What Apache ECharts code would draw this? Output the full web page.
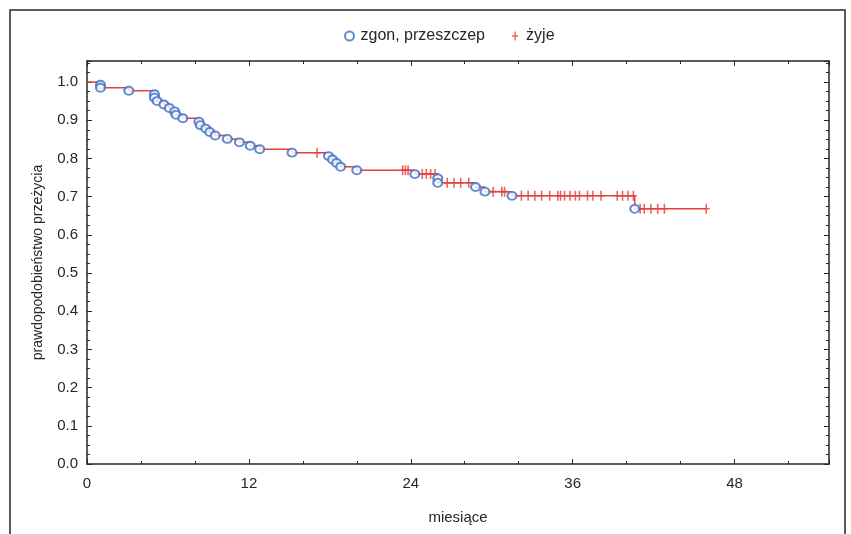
<!DOCTYPE html>
<html>
<head>
<meta charset="utf-8">
<script src="https://cdn.jsdelivr.net/npm/echarts@6/dist/echarts.min.js"></script>
<style>
  html, body { margin: 0; padding: 0; background: #fff; }
  #chart { width: 851px; height: 534px; }
</style>
</head>
<body>
<div id="chart"></div>
<script>
// czasy zgonów / przeszczepów (miesiące) i wartość krzywej po zdarzeniu
const deathT = [1.0, 1.0, 3.1, 5.0, 5.0, 5.2, 5.7, 6.1, 6.5, 6.6, 7.1, 8.3, 8.4, 8.8, 9.1, 9.5, 10.4, 11.3, 12.1, 12.8,
  15.2, 17.9, 18.2, 18.5, 18.8, 20.0, 24.3, 26.0, 26.0, 28.8, 29.5, 31.5, 40.6]
const deathS = [0.993, 0.985, 0.977, 0.968, 0.959, 0.950, 0.941, 0.932, 0.923, 0.914, 0.905, 0.896, 0.887, 0.878, 0.869,
  0.860, 0.851, 0.842, 0.833, 0.824, 0.815, 0.806, 0.797, 0.788, 0.778, 0.769, 0.759, 0.748, 0.736, 0.725, 0.713, 0.702, 0.668]
// obserwacje ucięte (żyje)
const censT = [17.05, 23.4, 23.6, 23.8, 24.85, 25.15, 25.47, 25.8, 26.7, 27.2, 27.7, 28.3, 30.1, 30.75, 30.95,
  32.2, 32.7, 33.2, 33.7, 34.3, 34.9, 35.1, 35.4, 35.8, 36.2, 36.5, 37.1, 37.5, 38.1, 39.3, 39.7, 40.1, 40.5,
  41.0, 41.3, 41.8, 42.3, 42.8, 45.9]
const xTicks = [0, 12, 24, 36, 48]
const yTicks = [0, 0.1, 0.2, 0.3, 0.4, 0.5, 0.6, 0.7, 0.8, 0.9, 1.0]

const survAt = (t) => {
  let s = 1
  deathT.forEach((d, i) => { if (d <= t) s = deathS[i] })
  return s
}

const curve = [[0, 1]]
deathT.forEach((t, i) => curve.push([t, deathS[i]]))
curve.push([censT[censT.length - 1], survAt(censT[censT.length - 1])])

const deaths = deathT.map((t, i) => [t, deathS[i]])
const censored = censT.map(t => [t, survAt(t)])

const RED = '#e5403a'
const BLUE = '#3b6fc6'
const INK = '#262626'
const FONT = '"Liberation Sans", Arial, sans-serif'
const plus = 'path://M2.4,0h1.4v3.8h2.4v1.4h-2.4v3.8h-1.4v-3.8h-2.4v-1.4h2.4z'
const XMAX = 55
const YMAX = 1.055

const axisLine = { show: true, onZero: false, lineStyle: { color: INK, width: 1.5 } }
const tick = { show: true, inside: true, length: 5, lineStyle: { color: INK } }
const smallTick = { show: true, inside: true, length: 3, lineStyle: { color: INK } }
const noLabel = { show: false }
const noSplit = { show: false }

// osie pomocnicze: same krótkie kreski podziałki
const minorX = (position) => ({
  type: 'value', position, min: 0, max: XMAX, interval: 4,
  axisLine: { show: false, onZero: false }, axisTick: smallTick, axisLabel: noLabel, splitLine: noSplit
})
const minorY = (position) => ({
  type: 'value', position, min: 0, max: YMAX, interval: 0.025,
  axisLine: { show: false, onZero: false }, axisTick: smallTick, axisLabel: noLabel, splitLine: noSplit
})

const chart = echarts.init(document.getElementById('chart'))
chart.setOption({
  animation: false,
  backgroundColor: '#fff',
  textStyle: { fontFamily: FONT },
  graphic: [{
    type: 'rect',
    shape: { x: 10, y: 10, width: 835, height: 540 },
    style: { fill: 'none', stroke: INK, lineWidth: 1.5 }
  }],
  legend: {
    top: 23,
    left: 339,
    itemGap: 27,
    itemWidth: 12,
    itemHeight: 9,
    textStyle: { fontFamily: FONT, fontSize: 16, color: INK },
    data: [
      { name: 'zgon, przeszczep', icon: 'emptyCircle', itemStyle: { color: BLUE } },
      { name: 'żyje', icon: plus, itemStyle: { color: RED } }
    ]
  },
  grid: { left: 87, right: 22, top: 61, bottom: 70 },
  xAxis: [{
    type: 'value',
    min: 0,
    max: XMAX,
    interval: 12,
    name: 'miesiące',
    nameLocation: 'middle',
    nameGap: 46,
    nameTextStyle: { fontSize: 15, color: INK, fontFamily: FONT },
    axisLine, axisTick: tick,
    axisLabel: {
      fontSize: 15, color: INK, margin: 12, fontFamily: FONT,
      formatter: v => xTicks.includes(v) ? String(v) : ''
    },
    splitLine: noSplit
  }, {
    type: 'value', position: 'top', min: 0, max: XMAX, interval: 12,
    axisLine, axisTick: tick, axisLabel: noLabel, splitLine: noSplit
  }, minorX('bottom'), minorX('top')],
  yAxis: [{
    type: 'value',
    min: 0,
    max: YMAX,
    interval: 0.1,
    name: 'prawdopodobieństwo przeżycia',
    nameLocation: 'middle',
    nameGap: 42,
    nameTextStyle: { fontSize: 14, color: INK, fontFamily: FONT },
    axisLine, axisTick: tick,
    axisLabel: {
      fontSize: 15, color: INK, margin: 9, fontFamily: FONT,
      formatter: v => yTicks.some(y => Math.abs(y - v) < 1e-6) ? v.toFixed(1) : ''
    },
    splitLine: noSplit
  }, {
    type: 'value', position: 'right', min: 0, max: YMAX, interval: 0.1,
    axisLine, axisTick: tick, axisLabel: noLabel, splitLine: noSplit
  }, minorY('left'), minorY('right')],
  series: [
    {
      name: 'krzywa',
      type: 'line',
      step: 'end',
      data: curve,
      showSymbol: false,
      lineStyle: { color: RED, width: 1.5 },
      z: 2
    },
    {
      name: 'żyje',
      type: 'scatter',
      data: censored,
      symbol: plus,
      symbolSize: [7, 10],
      itemStyle: { color: RED },
      z: 3
    },
    {
      name: 'zgon, przeszczep',
      type: 'scatter',
      data: deaths,
      symbol: 'emptyCircle',
      symbolSize: [9, 8],
      itemStyle: { color: BLUE, borderColor: BLUE, borderWidth: 1.6 },
      z: 4
    }
  ]
})
</script>
</body>
</html>
